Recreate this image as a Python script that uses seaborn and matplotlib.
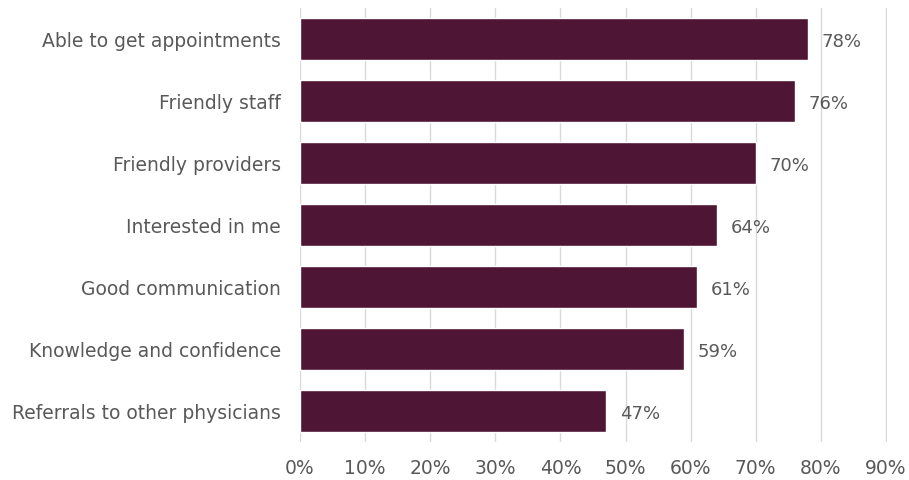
import matplotlib
matplotlib.use("Agg")
import matplotlib.pyplot as plt
import seaborn as sns
import pandas as pd

categories = [
    "Able to get appointments",
    "Friendly staff",
    "Friendly providers",
    "Interested in me",
    "Good communication",
    "Knowledge and confidence",
    "Referrals to other physicians",
]
values = [78, 76, 70, 64, 61, 59, 47]
x_ticks = [0, 10, 20, 30, 40, 50, 60, 70, 80, 90]

df = pd.DataFrame({"item": categories, "pct": values})

sns.set_style("white")
plt.rcParams["font.family"] = ["DejaVu Sans"]

bar_color = "#4E1634"
text_color = "#595959"
grid_color = "#D9D9D9"

fig, ax = plt.subplots(figsize=(9.09, 4.8), dpi=100)
fig.subplots_adjust(left=0.330, right=0.9757, top=0.983, bottom=0.079)

sns.barplot(data=df, x="pct", y="item", color=bar_color, width=0.68,
            saturation=1, ax=ax, zorder=3)

# percentage labels just past each bar end
for i, v in enumerate(values):
    ax.text(v + 2.1, i + 0.05, f"{v}%", va="center", ha="left",
            fontsize=13, color=text_color)

ax.set_xlim(0, 90.15)
ax.set_xticks(x_ticks)
ax.set_xticklabels([f"{t}%" for t in x_ticks])
ax.xaxis.grid(True, color=grid_color, linewidth=1, zorder=0)
ax.set_axisbelow(True)
ax.set_xlabel("")
ax.set_ylabel("")
for s in ax.spines.values():
    s.set_visible(False)
ax.tick_params(axis="x", length=0, pad=12, labelsize=13.5, labelcolor=text_color)
ax.tick_params(axis="y", length=0, pad=13.5, labelsize=13.5, labelcolor=text_color)

fig.savefig("out.png", dpi=100)
